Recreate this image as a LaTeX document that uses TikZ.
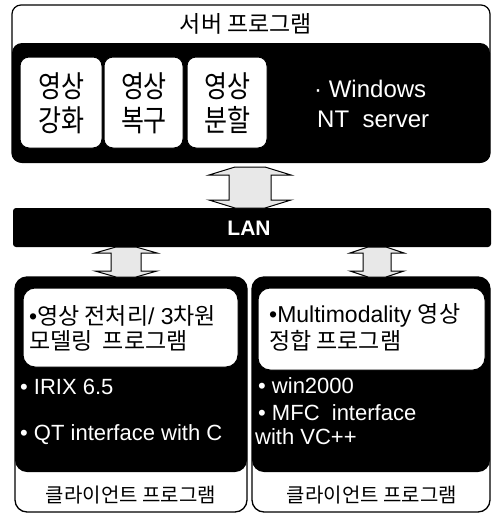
\documentclass[tikz,border=0pt]{standalone}
\usepackage{graphicx}
\usepackage{fontspec}
\setmainfont{Liberation Sans}
\newfontfamily\kr{Noto Sans CJK KR}
\newcommand\blockarr[7]{% cx, top, bottom, head half, shaft half, head length, tip half
  \draw[arr] (#1-#7,#2) -- (#1+#7,#2) -- (#1+#4,#2+#6) -- (#1+#5,#2+#6) -- (#1+#5,#3-#6) -- (#1+#4,#3-#6)
    -- (#1+#7,#3) -- (#1-#7,#3) -- (#1-#4,#3-#6) -- (#1-#5,#3-#6) -- (#1-#5,#2+#6) -- (#1-#4,#2+#6) -- cycle;}
\begin{document}
\begin{tikzpicture}[x=1pt,y=-1pt,
  outer/.style={draw=black, fill=white, line width=1.3pt, rounded corners=12pt},
  wbox/.style={draw=black, fill=white, line width=1pt, rounded corners=9pt},
  dark/.style={fill=black, rounded corners=10pt},
  arr/.style={draw=black, fill=gray!18, line width=1pt, line join=miter},
  wtext/.style={text=white, anchor=base west, inner sep=0pt, font=\fontsize{22}{26}\selectfont},
  btext/.style={text=black, anchor=base west, inner sep=0pt, font=\fontsize{23}{27}\selectfont},
  stage/.style={align=center, inner sep=0pt, font=\kr\fontsize{25}{34}\selectfont},
  label/.style={inner sep=0pt, font=\kr\fontsize{20}{24}\selectfont}
]
\useasboundingbox (0,0) rectangle (492,515);

% server
\draw[outer, line width=1.2pt, rounded corners=9pt] (12,5) rectangle (490,162);
\fill[dark] (12,43) rectangle (490,163);
\node[label, font=\kr\fontsize{23}{27}\selectfont] (srvtitle) at (246,24) {서버 프로그램};
\draw[wbox] (20,57) rectangle (102,148);
\draw[wbox] (104,57) rectangle (183,148);
\draw[wbox] (187,57) rectangle (267,148);
\node[stage] (s1) at (61,103) {\scalebox{1}[1.2]{영상}\\\scalebox{1}[1.2]{강화}};
\node[stage] (s2) at (144,103) {\scalebox{1}[1.2]{영상}\\\scalebox{1}[1.2]{복구}};
\node[stage] (s3) at (227,103) {\scalebox{1}[1.2]{영상}\\\scalebox{1}[1.2]{분할}};
\node[wtext, font=\fontsize{24}{28}\selectfont] (win1) at (314,97) {\textperiodcentered\ Windows};
\node[wtext, font=\fontsize{24}{28}\selectfont] (win2) at (317,127) {NT\ \ server};

% LAN
\fill[black, rounded corners=3pt] (13,208) rectangle (491,247);
\node[text=white, font=\bfseries\fontsize{21}{25}\selectfont, inner sep=0pt] (lan) at (249,228) {LAN};

% clients
\draw[outer] (15,277) rectangle (247,512);
\fill[dark, rounded corners=12pt] (15,277) rectangle (247,472);
\draw[wbox, rounded corners=12pt] (23,288) rectangle (238,367);
\node[btext] (c1a) at (29,324) {•{\kr 영상 전처리}/ 3{\kr 차원}};
\node[btext] (c1b) at (29,349) {\kr 모델링\ \ 프로그램};
\node[wtext] (c1c) at (20,394) {•\ IRIX 6.5};
\node[wtext] (c1d) at (20,440) {•\ QT interface with C};
\node[label] (c1l) at (131,495) {클라이언트 프로그램};

\draw[outer] (252,277) rectangle (490,512);
\fill[dark, rounded corners=12pt] (252,277) rectangle (490,472);
\draw[wbox, rounded corners=12pt] (258,288) rectangle (485,370);
\node[btext] (c2a) at (269,322) {•Multimodality {\kr 영상}};
\node[btext] (c2b) at (269,349) {\kr 정합 프로그램};
\node[wtext] (c2c) at (258,393) {•\ win2000};
\node[wtext] (c2d) at (258,420) {•\ MFC\ \ interface};
\node[wtext] (c2e) at (255,444) {with VC++};
\node[label] (c2l) at (372,495) {클라이언트 프로그램};

% arrows
\blockarr{250}{167}{208}{41}{21}{8}{15}
\blockarr{126}{247}{277}{31}{15}{6}{10}
\blockarr{377}{247}{277}{27}{14}{6}{9}
\end{tikzpicture}
\end{document}
